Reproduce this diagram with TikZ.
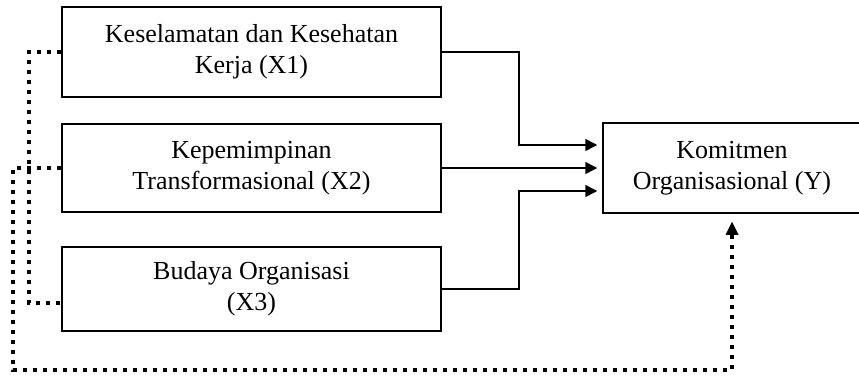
\documentclass[tikz,border=0pt]{standalone}
\usepackage{fontspec}
\setmainfont{Liberation Serif}
\usetikzlibrary{arrows.meta,positioning}

\begin{document}
\begin{tikzpicture}[x=1pt,y=-1pt,
  varbox/.style={draw, line width=1.5pt, inner sep=0pt, align=center,
    font=\fontsize{26}{31}\selectfont},
  link/.style={line width=1.5pt, -{Triangle[length=12pt,width=12pt]}, shorten >=5pt},
  dotlink/.style={line width=4pt, dash pattern=on 4pt off 6pt}
]
\useasboundingbox (0,0) rectangle (859,375);

% variable boxes
\node[varbox, minimum width=379pt, minimum height=90pt] (x1) at (251.5,52)
  {Keselamatan dan Kesehatan\\Kerja (X1)};
\node[varbox, minimum width=379pt, minimum height=88pt] (x2) at (251.5,168)
  {Kepemimpinan\\Transformasional (X2)};
\node[varbox, minimum width=379pt, minimum height=84pt] (x3) at (251.5,289)
  {Budaya Organisasi\\(X3)};
\node[varbox, minimum width=258pt, minimum height=90pt] (y) at (732,168)
  {Komitmen\\Organisasional (Y)};

% direct effects
\draw[link] (x1.east) -- (519,52) |- ([yshift=23pt]y.west);
\draw[link] (x2.east) -- (y.west);
\draw[link] (x3.east) -- (519,289) |- ([yshift=-23pt]y.west);

% dotted links on the left
\coordinate (x3in) at ([yshift=-14pt]x3.west);
\draw[dotlink] (x1.west) -- (29,52) |- (x3in);
\coordinate (yin) at (y.south);
\draw[dotlink] (x2.west) -- (13,168) |- (732,370) -- ([yshift=-20pt]yin);
% arrowhead of the dotted link, pointing up at the Y box
\fill ([yshift=-8pt]yin) -- ++(-6.5pt,-13pt) -- ++(13pt,0) -- cycle;
\end{tikzpicture}
\end{document}
